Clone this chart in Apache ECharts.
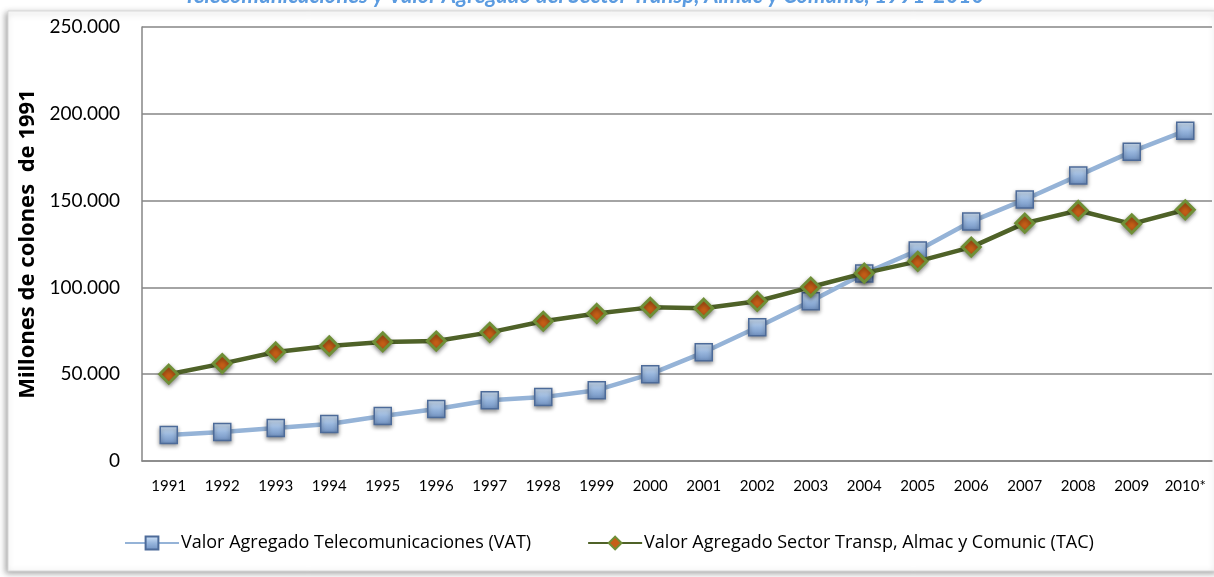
<!DOCTYPE html>
<html>
<head>
<meta charset="utf-8">
<script src="https://cdn.jsdelivr.net/npm/echarts@6/dist/echarts.min.js"></script>
<style>
  html, body { margin: 0; padding: 0; background: #fff; }
  #main { width: 1214px; height: 577px; }
</style>
</head>
<body>
<div id="main"></div>
<script>
var years = ['1991','1992','1993','1994','1995','1996','1997','1998','1999','2000',
             '2001','2002','2003','2004','2005','2006','2007','2008','2009','2010*'];
// Valor Agregado Telecomunicaciones (VAT)
var vat = [15000, 16700, 19000, 21300, 25900, 29900, 35000, 36800, 40800, 50000,
           62600, 77000, 92000, 108000, 121300, 137900, 150600, 164400, 178200, 190200];
// Valor Agregado Sector Transp, Almac y Comunic (TAC)
var tac = [50000, 56100, 62800, 66300, 68600, 69100, 74100, 80500, 85000, 88500,
           88000, 92000, 100200, 108200, 115000, 123200, 137000, 144300, 136600, 144700];
var yTicks = [0, 50000, 100000, 150000, 200000, 250000];

var myChart = echarts.init(document.getElementById('main'));

function fmt(v) {
  return String(v).replace(/\B(?=(\d{3})+(?!\d))/g, '.');
}

var font = 'Lato, "Noto Sans", sans-serif';

var option = {
  backgroundColor: '#fff',
  animation: false,
  title: {
    text: 'Telecomunicaciones y Valor Agregado del Sector Transp, Almac y Comunic, 1991-2010',
    left: 579,
    textAlign: 'center',
    top: -20,
    textStyle: {
      fontFamily: font,
      fontSize: 22,
      fontWeight: 'bold',
      fontStyle: 'italic',
      color: '#5b9be0'
    }
  },
  graphic: [{
    type: 'rect',
    z: -10,
    shape: { x: 8, y: 11, width: 1210, height: 560 },
    style: {
      fill: '#fff',
      stroke: '#d9d9d9',
      lineWidth: 1,
      shadowBlur: 6,
      shadowOffsetX: -2,
      shadowOffsetY: 2,
      shadowColor: 'rgba(0,0,0,0.35)'
    }
  }],
  legend: {
    bottom: 20,
    left: 119,
    itemGap: 56,
    itemWidth: 54,
    itemHeight: 16,
    textStyle: { fontFamily: '"Open Sans", sans-serif', fontSize: 18, color: '#000', padding: [0, 0, 0, -3] },
    data: ['Valor Agregado Telecomunicaciones (VAT)', 'Valor Agregado Sector Transp, Almac y Comunic (TAC)']
  },
  grid: {
    left: 142,
    right: 2,
    top: 27,
    bottom: 116
  },
  xAxis: {
    type: 'category',
    data: years,
    boundaryGap: true,
    axisLine: { lineStyle: { color: '#868686', width: 1.5 } },
    axisTick: { show: false },
    axisLabel: { fontFamily: font, fontSize: 15, color: '#000', margin: 18, interval: 0 }
  },
  yAxis: {
    type: 'value',
    min: yTicks[0],
    max: yTicks[yTicks.length - 1],
    interval: 50000,
    name: 'Millones de colones  de 1991',
    nameLocation: 'middle',
    nameGap: 102,
    nameTextStyle: { fontFamily: '"Noto Sans", sans-serif', fontSize: 22, fontWeight: 'bold', color: '#000' },
    axisLine: { show: true, lineStyle: { color: '#868686', width: 1.5 } },
    axisTick: { show: false },
    splitLine: { lineStyle: { color: '#868686', width: 1.5 } },
    axisLabel: {
      fontFamily: font, fontSize: 19, color: '#000', margin: 22,
      formatter: function (v) { return fmt(v); }
    }
  },
  series: [
    {
      name: 'Valor Agregado Telecomunicaciones (VAT)',
      type: 'line',
      data: vat,
      symbol: 'rect',
      symbolSize: 17,
      lineStyle: { color: '#95b3d7', width: 4.5 },
      itemStyle: {
        color: new echarts.graphic.LinearGradient(0, 0, 0, 1, [
          { offset: 0, color: '#d6e8fb' },
          { offset: 0.5, color: '#98b6dd' },
          { offset: 1, color: '#6f90c0' }
        ]),
        borderColor: '#4d6b99',
        borderWidth: 1.5,
        shadowBlur: 4,
        shadowOffsetY: 2,
        shadowColor: 'rgba(0,0,0,0.4)'
      },
      z: 2
    },
    {
      name: 'Valor Agregado Sector Transp, Almac y Comunic (TAC)',
      type: 'line',
      data: tac,
      symbol: 'diamond',
      symbolSize: 18,
      lineStyle: { color: '#4f6228', width: 4.5 },
      itemStyle: {
        color: '#c65f17',
        borderColor: '#6f8f37',
        borderWidth: 3,
        shadowBlur: 4,
        shadowOffsetY: 2,
        shadowColor: 'rgba(0,0,0,0.4)'
      },
      z: 3
    }
  ]
};

myChart.setOption(option);
</script>
</body>
</html>
